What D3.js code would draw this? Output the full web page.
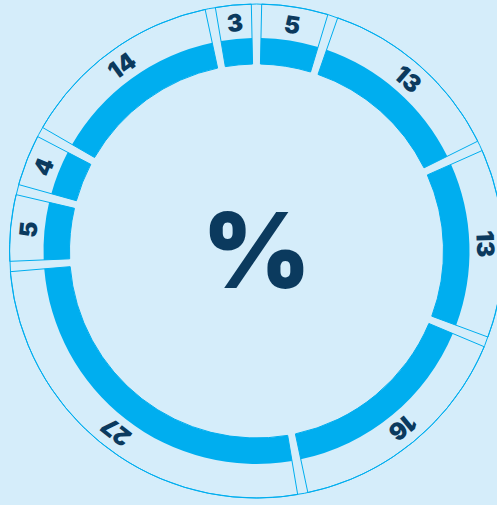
<!DOCTYPE html>
<html><head><meta charset="utf-8">
<script src="https://cdn.jsdelivr.net/npm/d3@7"></script>
<style>
html,body{margin:0;padding:0;background:#d5edfa;}
svg{display:block;}
</style></head>
<body>
<svg id="c" width="497" height="505"></svg>
<script>
const categories = ["A","B","C","D","E","F","G","H","I"];
const values = [5, 13, 13, 16, 27, 5, 4, 14, 3];
const labels = ["5","13","13","16","27","5","4","14","3"];
const centerLabel = ["%"];

const W = 497, H = 505;
const cx = 256.5, cy = 251;
const rBandIn = 187, rBandOut = 213, rOuter = 247, rLabel = 229;
const gap = 0.042;

const svg = d3.select("#c");
svg.append("rect").attr("width", W).attr("height", H).attr("fill", "#d5edfa");
const g = svg.append("g").attr("transform", `translate(${cx},${cy})`);

const pie = d3.pie().sort(null).value(d => d)(values);
const slices = pie.map((p, i) => ({
  s: p.startAngle + gap / 2,
  e: p.endAngle - gap / 2,
  m: (p.startAngle + p.endAngle) / 2,
  label: labels[i]
}));

g.append("circle").attr("r", rOuter).attr("fill", "none").attr("stroke", "#00aeef").attr("stroke-width", 1);

const boxArc = d3.arc().innerRadius(rBandIn).outerRadius(rOuter);
g.selectAll("path.box").data(slices).join("path").attr("class", "box")
  .attr("d", d => boxArc({startAngle: d.s, endAngle: d.e}))
  .attr("fill", "none").attr("stroke", "#00aeef").attr("stroke-width", 1);

const bandArc = d3.arc().innerRadius(rBandIn).outerRadius(rBandOut);
g.selectAll("path.band").data(slices).join("path").attr("class", "band")
  .attr("d", d => bandArc({startAngle: d.s, endAngle: d.e}))
  .attr("fill", "#00aeef");

g.selectAll("text.lab").data(slices).join("text").attr("class", "lab")
  .attr("transform", d => {
    const x = rLabel * Math.sin(d.m), y = -rLabel * Math.cos(d.m);
    return `translate(${x},${y}) rotate(${d.m * 180 / Math.PI})`;
  })
  .attr("text-anchor", "middle").attr("dy", "0.36em")
  .attr("font-family", "Inter, 'Noto Sans', sans-serif").attr("font-weight", 900)
  .attr("font-size", 24).attr("fill", "#0b3a5e")
  .text(d => d.label);

g.append("text").attr("x", 0).attr("y", 37)
  .attr("text-anchor", "middle")
  .attr("font-family", "Inter, 'Noto Sans', sans-serif").attr("font-weight", 900)
  .attr("font-size", 104).attr("fill", "#0b3a5e")
  .text(centerLabel[0]);
</script>
</body></html>
